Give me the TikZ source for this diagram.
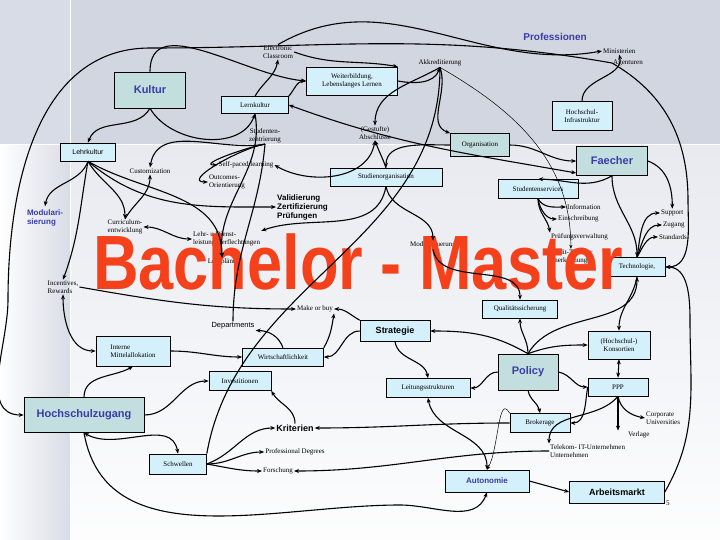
\documentclass[tikz,border=0pt]{standalone}
\usepackage{fontspec}
\setmainfont{Liberation Serif}
\setsansfont{Liberation Sans}
\usetikzlibrary{arrows.meta,calc}
\definecolor{bg}{HTML}{D8DCE6}
\definecolor{bgtop}{HTML}{D2D6E1}
\definecolor{boxc}{HTML}{D4F0FB}
\definecolor{teal}{HTML}{C3DEDF}
\definecolor{tblue}{HTML}{3A3CA8}
\definecolor{bred}{HTML}{F4411B}
\begin{document}
\begin{tikzpicture}[x=1pt,y=1pt,
  s/.style={font=\fontsize{7}{7.5}\selectfont,align=center,inner sep=1pt},
  sl/.style={font=\fontsize{7}{7.5}\selectfont,align=left,inner sep=1pt},
  box/.style={draw,line width=0.6pt,fill=boxc,font=\fontsize{7}{7.5}\selectfont,align=center,inner sep=1.5pt},
  big/.style={draw,line width=0.6pt,fill=teal,text=tblue,font=\sffamily\bfseries\fontsize{11}{12}\selectfont,align=center},
  bs/.style={font=\sffamily\bfseries\fontsize{8}{9}\selectfont,align=left,inner sep=1pt},
  a/.style={line width=1.1pt,-{Stealth[length=5pt,width=4pt]}},
  ab/.style={line width=1.1pt,{Stealth[length=5pt,width=4pt]}-{Stealth[length=5pt,width=4pt]}},
  t/.style={line width=0.5pt,-{Stealth[length=4pt,width=3pt]}}]
\useasboundingbox (0,0) rectangle (720,-540);
\fill[bg] (0,0) rectangle (720,-540);
\fill[bgtop] (70,0) rectangle (720,-145);
\shade[left color=white,right color=bg] (0,-145) rectangle (70,-540);
\shade[top color=bg!60!white,bottom color=white!95!bg] (70,-146) rectangle (720,-540);
\draw[white,line width=1pt] (0,-145)--(720,-145) (70,0)--(70,-540);
% texts
\node[text=tblue,font=\sffamily\bfseries\fontsize{10}{11}\selectfont] (prof) at (555,-37) {Professionen};
\node[s,anchor=west] (min) at (602,-51) {Ministerien};
\node[s,anchor=west] (age) at (612,-63) {Agenturen};
\node[s] (ecl) at (278,-52) {Electronic\\Classroom};
\node[s] (akk) at (440,-63) {Akkreditierung};
\node[box,minimum width=91pt,minimum height=28pt] (wb) at (352,-81) {Weiterbildung,\\Lebenslanges Lernen};
\node[big,minimum width=71pt,minimum height=36pt] (kul) at (150,-90) {Kultur};
\node[box,minimum width=67pt,minimum height=17pt] (lern) at (255,-105) {Lernkultur};
\node[box,minimum width=60pt,minimum height=29pt] (hsi) at (582,-116) {Hochschul-\\Infrastruktur};
\node[s] (abs) at (375,-133) {(Gestufte)\\Abschlüsse};
\node[s] (stz) at (265,-136) {Studenten-\\zentrierung};
\node[box,fill=teal,minimum width=59pt,minimum height=23pt] (org) at (480,-145) {Organisation};
\node[box,minimum width=55pt,minimum height=18pt,font=\sffamily\fontsize{7}{7.5}\selectfont] (lehr) at (88,-152) {Lehrkultur};
\node[big,minimum width=71pt,minimum height=29pt] (fae) at (612,-161) {Faecher};
\node[s] (cus) at (150,-171) {Customization};
\node[s] (spl) at (246,-165) {Self-paced learning};
\node[sl] (out) at (227,-182) {Outcomes-\\Orientierung};
\node[box,minimum width=112pt,minimum height=18pt] (sorg) at (386,-177) {Studienorganisation};
\node[box,minimum width=80pt,minimum height=19pt] (sse) at (538,-189) {Studentenservices};
\node[bs,anchor=west] (val) at (276,-207) {Validierung\\Zertifizierung\\Prüfungen};
\node[text=tblue,font=\sffamily\bfseries\fontsize{8}{9}\selectfont,align=left] (mod) at (45,-218) {Modulari-\\sierung};
\node[sl] (cur) at (125,-227) {Curriculum-\\entwicklung};
\node[sl,anchor=west] (ldv) at (192,-239) {Lehr- u Dienst-\\leistungsverflechtungen};
\node[s,anchor=west] (inf) at (566,-207) {Information};
\node[s,anchor=west] (ein) at (557,-219) {Einschreibung};
\node[s,anchor=west] (pv) at (550,-237) {Prüfungsverwaltung};
\node[sl,anchor=west] (ct) at (548,-257) {Credit-Transfer\\Anerkennung};
\node[s,anchor=west] (sup) at (660,-213) {Support};
\node[s,anchor=west] (zug) at (662,-225) {Zugang};
\node[s,anchor=west] (sta) at (658,-237) {Standards};
\node[s] (mst) at (433,-245) {Modulsteuerung};
\node[s] (lpl) at (222,-262) {Lehrpläne};
\node[box,minimum width=56pt,minimum height=19pt] (tec) at (637,-267) {Technologie,};
\node[text=bred,font=\sffamily\bfseries\fontsize{77}{77}\selectfont,inner sep=0pt] (bm) at (358,-262) {\scalebox{0.82}[1]{Bachelor - Master}};
\node[sl] (inc) at (63,-287) {Incentives,\\Rewards};
\node[s] (mob) at (315,-309) {Make or buy};
\node[box,minimum width=75pt,minimum height=18pt] (qs) at (520,-309) {Qualitätssicherung};
\node[s,font=\sffamily\fontsize{7.5}{8}\selectfont] (dep) at (233,-326) {Departments};
\node[box,minimum width=70pt,minimum height=21pt,font=\sffamily\bfseries\fontsize{9}{10}\selectfont] (str) at (395,-331) {Strategie};
\node[box,minimum width=62pt,minimum height=28pt] (kon) at (619,-345) {(Hochschul-)\\Konsortien};
\node[box,minimum width=74pt,minimum height=30pt,align=left] (imi) at (133,-351) {Interne\\Mittelallokation};
\node[box,minimum width=81pt,minimum height=18pt] (wir) at (283,-357) {Wirtschaftlichkeit};
\node[big,minimum width=60pt,minimum height=36pt] (pol) at (528,-372) {Policy};
\node[box,minimum width=62pt,minimum height=19pt] (inv) at (240,-381) {Investitionen};
\node[box,minimum width=84pt,minimum height=19pt] (lei) at (428,-388) {Leitungsstrukturen};
\node[box,minimum width=60pt,minimum height=18pt] (ppp) at (618,-387) {PPP};
\node[big,minimum width=120pt,minimum height=35pt] (hzu) at (84,-415) {Hochschulzugang};
\node[bs,font=\sffamily\bfseries\fontsize{9}{10}\selectfont] (kri) at (295,-428) {Kriterien};
\node[box,minimum width=60pt,minimum height=19pt] (bro) at (540,-423) {Brokerage};
\node[sl,anchor=west] (cor) at (645,-418) {Corporate\\Universities};
\node[s,anchor=west] (ver) at (627,-435) {Verlage};
\node[s] (pd) at (295,-452) {Professional Degrees};
\node[sl,anchor=west] (tel) at (549,-451) {Telekom- IT-Unternehmen\\Unternehmen};
\node[box,minimum width=57pt,minimum height=20pt] (sch) at (178,-464) {Schwellen};
\node[s] (for) at (278,-471) {Forschung};
\node[box,minimum width=84pt,minimum height=22pt,text=tblue,font=\sffamily\bfseries\fontsize{8}{9}\selectfont] (aut) at (487,-481) {Autonomie};
\node[box,minimum width=95pt,minimum height=22pt,font=\sffamily\bfseries\fontsize{9}{10}\selectfont] (arb) at (617,-492) {Arbeitsmarkt};
\node[s,anchor=west] (five) at (665,-503) {5};
\coordinate (topL) at (150,-48);
\coordinate (rR) at (688,-200);
% connectors
\draw[a] (kul.south) to[out=-120,in=70] (lehr.north);
\draw[a] (kul.south) to[out=-60,in=-110] (lern.south);
\draw[a] (kul.north) to[out=90,in=175] (wb.west);
\draw[a] (lern.north) to[out=60,in=-100] (ecl.south);
\draw[a] (lern.north east) to[out=50,in=180] (wb.west);
\draw[ab] (lern.east) to[out=-20,in=170] ($(fae.west)+(0,-12)$);
\draw[a] (lern.south) to[out=-80,in=95] (lpl.north);
\draw[a] (ecl.east) to[out=-20,in=170] (wb.north east);
\draw[a] (age.west) to[out=170,in=0] (topL) to[out=180,in=90] (8,-300) to[out=-90,in=180] (hzu.west);
\draw[a] (ecl.north) to[out=30,in=-170] (min.west);
\draw[a] (age.west) to[out=-30,in=90] (rR) to[out=-90,in=0] (tec.east);
\draw[a] (hsi.north) to[out=90,in=-80] (min.south);
\draw[a] (wb.east) to[out=-10,in=-110] (akk.south);
\draw[a] (akk.south) to[out=-150,in=90] (abs.north);
\draw[a] (akk.south) to[out=-70,in=160] (org.north west);
\draw[line width=1.1pt] (akk.south) to[out=-90,in=80] (sch.north east);
\draw[t] (akk.south) to[out=-30,in=90] (ct.north);
\draw[a] (org.east) to[out=0,in=180] (fae.west);
\draw[a] (org.west) to[out=180,in=90] (sorg.north);
\draw[a] (sorg.south) to[out=-80,in=90] (mst.north);
\draw[a] (sorg.north) to[out=110,in=-70] (abs.south);
\draw[a] (sorg.south) to[out=-100,in=20] (ldv.north east);
\draw[a] (fae.south) to[out=-150,in=0] (sse.north);
\draw[a] (fae.east) to[out=-20,in=90] (sup.north);
\draw[a] (fae.south) to[out=-90,in=90] (tec.north);
\draw[a] (sse.south) to[out=-60,in=180] (inf.west);
\draw[a] (sse.south) to[out=-80,in=180] (ein.west);
\draw[a] (sse.south) to[out=-90,in=100] (pv.north west);
\draw[a] (tec.north) to[out=80,in=180] (sup.west);
\draw[a] (tec.north) to[out=70,in=180] (zug.west);
\draw[a] (tec.north) to[out=60,in=180] (sta.west);
\draw[a] (lehr.south) to[out=-110,in=80] (mod.north);
\draw[a] (lehr.south) to[out=-60,in=90] (cur.north);
\draw[a] (cur.north) to[out=60,in=-90] (cus.south);
\draw[a] (lehr.south) to[out=-40,in=180] (val.west);
\draw[a] (lehr.south) to[out=-30,in=90] (lpl.north);
\draw[a] (lehr.south) to[out=-100,in=70] (inc.north);
\draw[ab] (cur.east) to[out=0,in=180] (ldv.west);
\draw[a] (stz.south) to[out=-170,in=180] (spl.west);
\draw[a] (stz.south) to[out=-170,in=180] (out.west);
\draw[a] (stz.south) to[out=-170,in=80] (cus.north);
\draw[line width=1.1pt] (stz.south) to[out=-95,in=90] (dep.north);
\draw[ab] (spl.east) to[out=-30,in=-100] (abs.south);
\draw[ab] (inc.south) to[out=-90,in=180] (imi.west);
\draw[a] (inc.east) to[out=-10,in=180] (mob.west);
\draw[a] (hzu.north) to[out=90,in=-150] (imi.south);
\draw[a] (hzu.east) to[out=0,in=180] (inv.west);
\draw[ab] (hzu.south) to[out=-30,in=100] (sch.north);
\draw[a] (hzu.south) to[out=-80,in=180] (400,-505) to[out=0,in=-110] (aut.south);
\draw[a] (imi.east) to[out=0,in=180] (wir.west);
\draw[a] (wir.north) to[out=110,in=0] (dep.south east);
\draw[a] (wir.north east) to[out=60,in=-100] (mob.south east);
\draw[a] (str.west) to[out=180,in=0] (wir.east);
\draw[a] (str.north west) to[out=150,in=0] (mob.east);
\draw[a] (str.south) to[out=-80,in=100] (lei.north);
\draw[a] (pol.north) to[out=150,in=0] (str.east);
\draw[a] (pol.north) to[out=90,in=-90] (qs.south);
\draw[a] (pol.north) to[out=20,in=180] (kon.west);
\draw[a] (pol.north) to[out=60,in=-90] (tec.south);
\draw[a] (pol.west) to[out=180,in=0] (lei.east);
\draw[a] (pol.east) to[out=-10,in=180] (ppp.west);
\draw[a] (pol.south) to[out=-80,in=100] (bro.north);
\draw[ab] (kon.south) -- (ppp.north);
\draw[a] (tec.south) to[out=-100,in=90] (kon.north);
\draw[a] (ppp.south) to[out=-80,in=170] (cor.west);
\draw[a] (ppp.south) -- (ver.north -| ppp.south);
\draw[a] (ppp.south) to[out=-130,in=90] (tel.north west);
\draw[a] (ppp.west) to[out=-100,in=0] (bro.east);
\draw[ab] (lei.south) to[out=-80,in=90] (aut.north);
\draw[a] (aut.east) -- (arb.west);
\draw[a] (arb.east) to[out=60,in=-90] (690,-320) to[out=90,in=0] (tec.east);
\draw[a] (sch.east) to[out=20,in=180] (kri.west);
\draw[a] (sch.east) to[out=0,in=180] (pd.west);
\draw[a] (sch.east) to[out=-10,in=180] (for.west);
\draw[a] (bro.west) to[out=180,in=0] (kri.east);
\draw[a] (tel.west) to[out=180,in=0] (for.east);
\draw[a] (kri.north) to[out=90,in=-60] (inv.south east);
\draw[a] (mst.south) to[out=-80,in=90] (qs.north);
\draw[t] (bro.north west) to[out=120,in=60] (aut.north);
\end{tikzpicture}
\end{document}
